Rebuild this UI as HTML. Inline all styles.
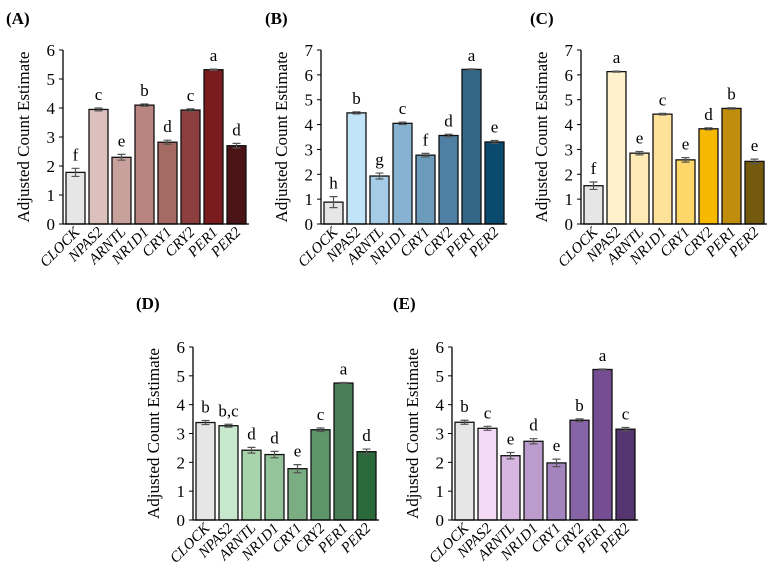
<!DOCTYPE html>
<html><head><meta charset="utf-8"><style>
body{margin:0;background:#fff}
svg{display:block}
svg text{font-family:"Liberation Serif","Times New Roman","DejaVu Serif",serif}
</style></head><body>
<svg id="fig" width="774" height="573" viewBox="0 0 774 573" xmlns="http://www.w3.org/2000/svg" font-family="Liberation Serif, serif"></svg>
<script>
const genes = ["CLOCK","NPAS2","ARNTL","NR1D1","CRY1","CRY2","PER1","PER2"];
const valuesA = [1.78,3.95,2.3,4.1,2.82,3.93,5.32,2.7];
const errorsA = [0.14,0.05,0.1,0.04,0.07,0.04,0.02,0.08];
const lettersA = ["f","c","e","b","d","c","a","d"];
const valuesB = [0.88,4.47,1.93,4.05,2.77,3.56,6.22,3.3];
const errorsB = [0.22,0.04,0.12,0.05,0.07,0.05,0.02,0.06];
const lettersB = ["h","b","g","c","f","d","a","e"];
const valuesC = [1.54,6.13,2.85,4.42,2.58,3.83,4.65,2.52];
const errorsC = [0.15,0.02,0.07,0.03,0.09,0.04,0.03,0.09];
const lettersC = ["f","a","e","c","e","d","b","e"];
const valuesD = [3.38,3.27,2.42,2.27,1.78,3.13,4.75,2.37];
const errorsD = [0.07,0.05,0.1,0.11,0.14,0.06,0.02,0.09];
const lettersD = ["b","b,c","d","d","e","c","a","d"];
const valuesE = [3.39,3.18,2.23,2.73,1.98,3.46,5.22,3.15];
const errorsE = [0.07,0.07,0.11,0.09,0.13,0.05,0.02,0.06];
const lettersE = ["b","c","e","d","e","b","a","c"];
const ticks6 = [0,1,2,3,4,5,6];
const ticks7 = [0,1,2,3,4,5,6,7];

const panels = [
 {id:"A",vals:valuesA,errs:errorsA,lets:lettersA,ticks:ticks6,max:6,x0:63,y0:224,y1:50,lx:6,ly:24,
  colors:["#e6e6e6","#dcc0bc","#c8a09c","#b88580","#a66a64","#8c3f3e","#7a1c1e","#4a1416"]},
 {id:"B",vals:valuesB,errs:errorsB,lets:lettersB,ticks:ticks7,max:7,x0:321,y0:224,y1:50,lx:265,ly:24,
  colors:["#e6e6e6","#c2e4f8","#a6cbe6","#88b2d2","#6d9bbc","#4f7fa2","#336687","#0a4a6e"]},
 {id:"C",vals:valuesC,errs:errorsC,lets:lettersC,ticks:ticks7,max:7,x0:581,y0:224,y1:50,lx:530,ly:24,
  colors:["#e6e6e6","#fff1cc","#ffeab5","#ffe29a","#fdd76a","#f7b800","#c08e0c","#735a0c"]},
 {id:"D",vals:valuesD,errs:errorsD,lets:lettersD,ticks:ticks6,max:6,x0:193,y0:520,y1:347,lx:136,ly:309,
  colors:["#e6e6e6","#c7e8cc","#a8d4ac","#94c49a","#7aae82","#5c9669","#4a7e58","#2a6a3a"]},
 {id:"E",vals:valuesE,errs:errorsE,lets:lettersE,ticks:ticks6,max:6,x0:452,y0:520,y1:347,lx:393,ly:309,
  colors:["#e6e6e6","#f2d9f4","#d7b7e1","#bc9bcd","#a484bc","#8764a5","#764c92","#553570"]}
];
const NS="http://www.w3.org/2000/svg";
const svg=document.getElementById("fig");
function mk(tag,attrs,parent,text){const e=document.createElementNS(NS,tag);for(const k in attrs)e.setAttribute(k,attrs[k]);if(text!==undefined)e.textContent=text;parent.appendChild(e);return e;}
const slot=23, bw=19;
panels.forEach(p=>{
  const g=mk("g",{},svg);
  
  
  const yS=v=>p.y0-(v/p.max)*(p.y0-p.y1);
  const xS=i=>p.x0+1+i*slot+slot/2;
  const right=p.x0+slot*8+2;
  const t=mk("text",{x:p.lx,y:p.ly,"font-size":"17","font-weight":"bold"},g,"("+p.id+")");
  
  
  const yt=mk("text",{x:0,y:0,"font-size":"17",transform:`translate(${p.x0-34},${(p.y0+p.y1)/2}) rotate(-90)`,"text-anchor":"middle"},g,"Adjusted Count Estimate");
  
  
  p.ticks.forEach(tv=>{
    const y=yS(tv);
    const tl=mk("text",{x:p.x0-8,y:y+6,"font-size":"17","text-anchor":"end"},g,String(tv));
    
    
    const tk=mk("line",{x1:p.x0-4,x2:p.x0,y1:y,y2:y,stroke:"#000","stroke-width":1},g);
    
    
  });
  p.vals.forEach((v,i)=>{
    const cx=xS(i), top=yS(v);
    const r=mk("rect",{x:cx-bw/2,y:top,width:bw,height:p.y0-top,fill:p.colors[i],stroke:"#111","stroke-width":1.3},g);
    
    
    const e1=yS(v+p.errs[i]), e2=yS(v-p.errs[i]);
    const eb=mk("path",{d:`M${cx},${e1}V${e2}M${cx-4},${e1}H${cx+4}M${cx-4},${e2}H${cx+4}`,stroke:"#555","stroke-width":1.2,fill:"none"},g);
    
    
    const lt=mk("text",{x:cx,y:e1-8,"font-size":"17","text-anchor":"middle"},g,p.lets[i]);
    
    
    const cl=mk("text",{x:0,y:0,"font-size":"15","font-style":"italic","text-anchor":"end",transform:`translate(${cx+5},${p.y0+9}) rotate(-45)`},g,genes[i]);
    
    
  });
  const ax=mk("path",{d:`M${p.x0},${p.y1}V${p.y0}H${right}`,stroke:"#000","stroke-width":1.3,fill:"none"},g);
  
  
});
</script>
</body></html>
